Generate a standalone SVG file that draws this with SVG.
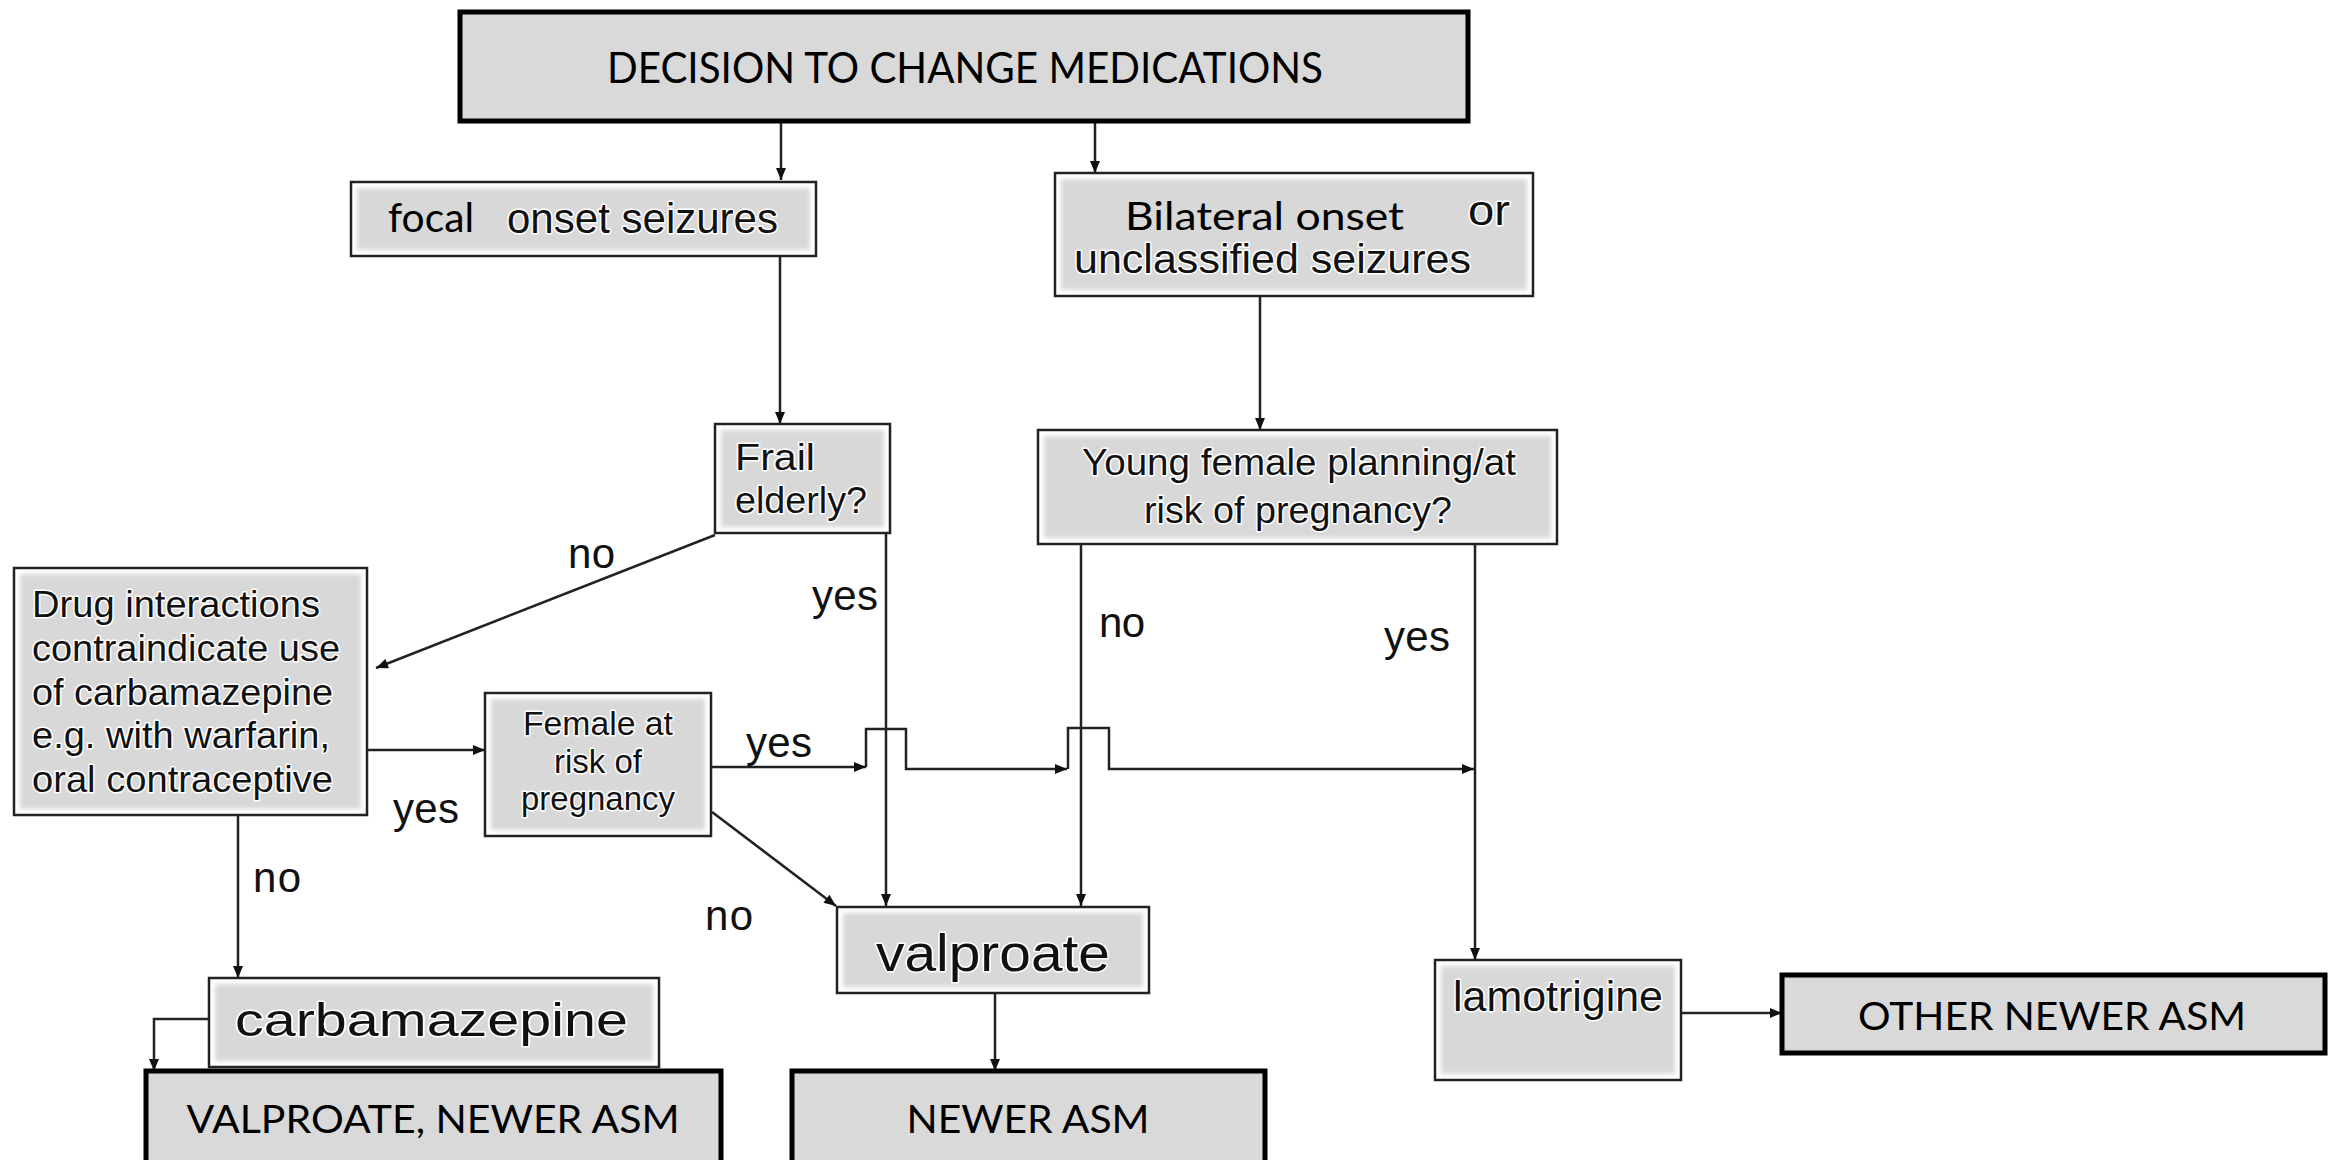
<svg xmlns="http://www.w3.org/2000/svg" width="2336" height="1160" viewBox="0 0 2336 1160">
<defs>
<marker id="ah" viewBox="0 0 12 10" refX="12" refY="5" markerWidth="13" markerHeight="10" markerUnits="userSpaceOnUse" orient="auto"><path d="M0,0 L12,5 L0,10 z" fill="#111"/></marker>
<filter id="soft" x="-5%" y="-5%" width="110%" height="110%"><feGaussianBlur stdDeviation="2"/></filter>
</defs>
<style>
.box{fill:#fff;stroke:#222;stroke-width:2.5}
.fill{fill:#d8d8d8;filter:url(#soft)}
.thick{fill:#d9d9d9;stroke:#000;stroke-width:5}
.a{font-family:"Liberation Sans",Arial,sans-serif;fill:#111}
.halo{stroke:#fff;stroke-width:3;paint-order:stroke;stroke-linejoin:round}
.c{font-family:Lato,"Open Sans",sans-serif;fill:#000}
.ln{fill:none;stroke:#222;stroke-width:2.5}
.arr{marker-end:url(#ah)}
</style>
<rect width="2336" height="1160" fill="#fff"/>

<g id="connectors">
<path class="ln arr" d="M781,123 V180"/>
<path class="ln arr" d="M1095,123 V173"/>
<path class="ln arr" d="M780,256 V424"/>
<path class="ln arr" d="M1260,296 V430"/>
<path class="ln arr" d="M715,535 L376,668"/>
<path class="ln arr" d="M886,533 V906"/>
<path class="ln arr" d="M1081,544 V906"/>
<path class="ln arr" d="M1475,544 V960"/>
<path class="ln arr" d="M367,750 H485"/>
<path class="ln arr" d="M238,815 V978"/>
<path class="ln arr" d="M711,767 H866"/>
<path class="ln arr" d="M866,767 V729 H906 V769 H1067"/>
<path class="ln arr" d="M1068,769 V728 H1109 V769 H1474"/>
<path class="ln arr" d="M712,812 L836,906"/>
<path class="ln arr" d="M995,978 V1071"/>
<path class="ln arr" d="M209,1019 H154 V1071"/>
<path class="ln arr" d="M1681,1013 H1782"/>
<g id="labels" class="a" font-size="42">
<text x="568" y="568" textLength="47">no</text>
<text x="812" y="610" textLength="66">yes</text>
<text x="1099" y="637" textLength="46">no</text>
<text x="1384" y="651" textLength="66">yes</text>
<text x="393" y="823" textLength="66">yes</text>
<text x="746" y="757" textLength="66">yes</text>
<text x="253" y="892" textLength="48">no</text>
<text x="705" y="930" textLength="48">no</text>
</g>
</g>

<g id="decision">
<rect class="thick" x="460" y="12" width="1008" height="109"/>
<text class="c" x="965" y="83" font-size="42" text-anchor="middle" textLength="716" lengthAdjust="spacingAndGlyphs">DECISION TO CHANGE MEDICATIONS</text>
</g>

<g id="focal">
<rect class="box" x="351" y="182" width="465" height="74"/>
<rect class="fill" x="357" y="188" width="453" height="62"/>
<text class="c" x="388" y="232" font-size="40" textLength="86" lengthAdjust="spacingAndGlyphs">focal</text>
<text class="a halo" x="507" y="233" font-size="42" textLength="271" lengthAdjust="spacingAndGlyphs">onset seizures</text>
</g>

<g id="bilateral">
<rect class="box" x="1055" y="173" width="478" height="123"/>
<rect class="fill" x="1061" y="179" width="466" height="111"/>
<text class="c" x="1125" y="230" font-size="39" textLength="279" lengthAdjust="spacingAndGlyphs">Bilateral onset</text>
<text class="a halo" x="1468" y="225" font-size="42" textLength="42" lengthAdjust="spacingAndGlyphs">or</text>
<text class="a halo" x="1074" y="273" font-size="41" textLength="397" lengthAdjust="spacingAndGlyphs">unclassified seizures</text>
</g>

<g id="frail">
<rect class="box" x="715" y="424" width="175" height="109"/>
<rect class="fill" x="721" y="430" width="163" height="97"/>
<text class="a halo" x="735" y="470" font-size="36" textLength="80" lengthAdjust="spacingAndGlyphs">Frail</text>
<text class="a halo" x="735" y="513" font-size="36" textLength="132" lengthAdjust="spacingAndGlyphs">elderly?</text>
</g>

<g id="young">
<rect class="box" x="1038" y="430" width="519" height="114"/>
<rect class="fill" x="1044" y="436" width="507" height="102"/>
<text class="a halo" x="1082" y="475" font-size="37" textLength="434" lengthAdjust="spacingAndGlyphs">Young female planning/at</text>
<text class="a halo" x="1144" y="523" font-size="37" textLength="308" lengthAdjust="spacingAndGlyphs">risk of pregnancy?</text>
</g>

<g id="drug">
<rect class="box" x="14" y="568" width="353" height="247"/>
<rect class="fill" x="20" y="574" width="341" height="235"/>
<g class="a halo" font-size="37">
<text x="32" y="617" textLength="288" lengthAdjust="spacingAndGlyphs">Drug interactions</text>
<text x="32" y="661" textLength="308" lengthAdjust="spacingAndGlyphs">contraindicate use</text>
<text x="32" y="705" textLength="301" lengthAdjust="spacingAndGlyphs">of carbamazepine</text>
<text x="32" y="748" textLength="298" lengthAdjust="spacingAndGlyphs">e.g. with warfarin,</text>
<text x="32" y="792" textLength="301" lengthAdjust="spacingAndGlyphs">oral contraceptive</text>
</g>
</g>

<g id="female">
<rect class="box" x="485" y="693" width="226" height="143"/>
<rect class="fill" x="491" y="699" width="214" height="131"/>
<g class="a halo" font-size="33" text-anchor="middle">
<text x="598" y="735" textLength="150" lengthAdjust="spacingAndGlyphs">Female at</text>
<text x="598" y="773">risk of</text>
<text x="598" y="810" textLength="154" lengthAdjust="spacingAndGlyphs">pregnancy</text>
</g>
</g>

<g id="valproate">
<rect class="box" x="837" y="907" width="312" height="86"/>
<rect class="fill" x="843" y="913" width="300" height="74"/>
<text class="a halo" x="876" y="971" font-size="52" textLength="234" lengthAdjust="spacingAndGlyphs">valproate</text>
</g>

<g id="carbamazepine">
<rect class="box" x="209" y="978" width="450" height="89"/>
<rect class="fill" x="215" y="984" width="438" height="77"/>
<text class="a halo" x="235" y="1036" font-size="46" textLength="393" lengthAdjust="spacingAndGlyphs">carbamazepine</text>
</g>

<g id="lamotrigine">
<rect class="box" x="1435" y="960" width="246" height="120"/>
<rect class="fill" x="1441" y="966" width="234" height="108"/>
<text class="a halo" x="1453" y="1011" font-size="42" textLength="210" lengthAdjust="spacingAndGlyphs">lamotrigine</text>
</g>

<g id="other-newer-asm">
<rect class="thick" x="1782" y="975" width="543" height="78"/>
<text class="c" x="2052" y="1030" font-size="39" text-anchor="middle" textLength="388" lengthAdjust="spacingAndGlyphs">OTHER NEWER ASM</text>
</g>

<g id="valproate-newer-asm">
<rect class="thick" x="146" y="1071" width="575" height="120"/>
<text class="c" x="433" y="1133" font-size="39" text-anchor="middle" textLength="493" lengthAdjust="spacingAndGlyphs">VALPROATE, NEWER ASM</text>
</g>

<g id="newer-asm">
<rect class="thick" x="792" y="1071" width="473" height="120"/>
<text class="c" x="1028" y="1133" font-size="39" text-anchor="middle" textLength="243" lengthAdjust="spacingAndGlyphs">NEWER ASM</text>
</g>
</svg>
